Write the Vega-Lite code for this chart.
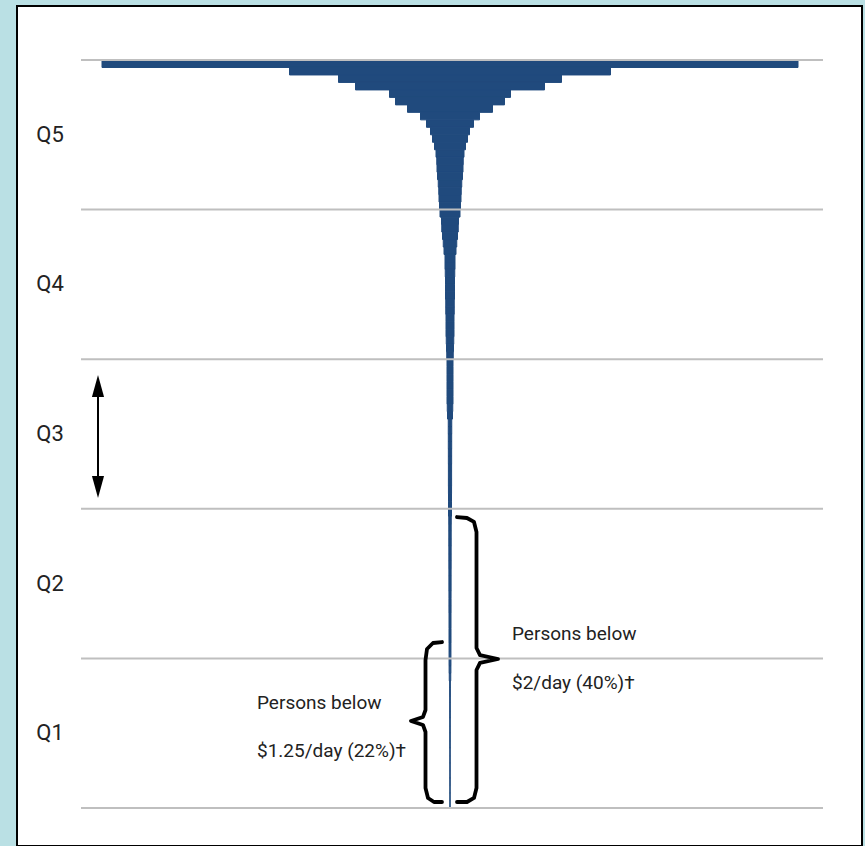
{
  "$schema": "https://vega.github.io/schema/vega-lite/v6.json",
  "width": 845,
  "height": 840,
  "autosize": "none",
  "padding": {"left": 17, "top": 6, "right": 3, "bottom": 0},
  "background": "#bae0e4",
  "config": {
    "view": {"fill": "white", "stroke": "black", "strokeWidth": 2},
    "axis": {"disable": true},
    "text": {"font": "Roboto, sans-serif", "fontSize": 19, "color": "#222222"}
  },
  "layer": [
    {
      "data": {"values": [
        {"p0": 99, "p1": 100, "income": 69.6}, {"p0": 98, "p1": 99, "income": 32.1}, {"p0": 97, "p1": 98, "income": 22.3},
        {"p0": 96, "p1": 97, "income": 18.9}, {"p0": 95, "p1": 96, "income": 12.1}, {"p0": 94, "p1": 95, "income": 10.9},
        {"p0": 93, "p1": 94, "income": 8.5}, {"p0": 92, "p1": 93, "income": 5.9}, {"p0": 91, "p1": 92, "income": 4.7},
        {"p0": 90, "p1": 91, "income": 3.9}, {"p0": 89, "p1": 90, "income": 3.5}, {"p0": 88, "p1": 89, "income": 3.1},
        {"p0": 87, "p1": 88, "income": 2.8}, {"p0": 86, "p1": 87, "income": 2.65}, {"p0": 85, "p1": 86, "income": 2.6},
        {"p0": 84, "p1": 85, "income": 2.5}, {"p0": 83, "p1": 84, "income": 2.35}, {"p0": 82, "p1": 83, "income": 2.25},
        {"p0": 81, "p1": 82, "income": 2.2}, {"p0": 80, "p1": 81, "income": 2.1}, {"p0": 79, "p1": 80, "income": 2.0},
        {"p0": 78, "p1": 79, "income": 1.7}, {"p0": 77, "p1": 78, "income": 1.65}, {"p0": 76, "p1": 77, "income": 1.5},
        {"p0": 75, "p1": 76, "income": 1.35}, {"p0": 74, "p1": 75, "income": 1.2}, {"p0": 73, "p1": 74, "income": 1.0},
        {"p0": 72, "p1": 73, "income": 1.0}, {"p0": 71, "p1": 72, "income": 0.95}, {"p0": 70, "p1": 71, "income": 0.9},
        {"p0": 69, "p1": 70, "income": 0.9}, {"p0": 68, "p1": 69, "income": 0.9}, {"p0": 67, "p1": 68, "income": 0.85},
        {"p0": 66, "p1": 67, "income": 0.85}, {"p0": 65, "p1": 66, "income": 0.8}, {"p0": 64, "p1": 65, "income": 0.8},
        {"p0": 63, "p1": 64, "income": 0.8}, {"p0": 62, "p1": 63, "income": 0.75}, {"p0": 61, "p1": 62, "income": 0.7},
        {"p0": 60, "p1": 61, "income": 0.65}, {"p0": 59, "p1": 60, "income": 0.6}, {"p0": 58, "p1": 59, "income": 0.6},
        {"p0": 57, "p1": 58, "income": 0.6}, {"p0": 56, "p1": 57, "income": 0.6}, {"p0": 55, "p1": 56, "income": 0.6},
        {"p0": 54, "p1": 55, "income": 0.6}, {"p0": 53, "p1": 54, "income": 0.55}, {"p0": 52, "p1": 53, "income": 0.5},
        {"p0": 51, "p1": 52, "income": 0.35}, {"p0": 50, "p1": 51, "income": 0.35}, {"p0": 49, "p1": 50, "income": 0.34},
        {"p0": 48, "p1": 49, "income": 0.34}, {"p0": 47, "p1": 48, "income": 0.33}, {"p0": 46, "p1": 47, "income": 0.33},
        {"p0": 45, "p1": 46, "income": 0.32}, {"p0": 44, "p1": 45, "income": 0.32}, {"p0": 43, "p1": 44, "income": 0.32},
        {"p0": 42, "p1": 43, "income": 0.31}, {"p0": 41, "p1": 42, "income": 0.3}, {"p0": 40, "p1": 41, "income": 0.3},
        {"p0": 39, "p1": 40, "income": 0.3}, {"p0": 38, "p1": 39, "income": 0.25}, {"p0": 37, "p1": 38, "income": 0.24},
        {"p0": 36, "p1": 37, "income": 0.24}, {"p0": 35, "p1": 36, "income": 0.24}, {"p0": 34, "p1": 35, "income": 0.23},
        {"p0": 33, "p1": 34, "income": 0.23}, {"p0": 32, "p1": 33, "income": 0.23}, {"p0": 31, "p1": 32, "income": 0.22},
        {"p0": 30, "p1": 31, "income": 0.22}, {"p0": 29, "p1": 30, "income": 0.22}, {"p0": 28, "p1": 29, "income": 0.21},
        {"p0": 27, "p1": 28, "income": 0.21}, {"p0": 26, "p1": 27, "income": 0.21}, {"p0": 25, "p1": 26, "income": 0.2},
        {"p0": 24, "p1": 25, "income": 0.2}, {"p0": 23, "p1": 24, "income": 0.2}, {"p0": 22, "p1": 23, "income": 0.2},
        {"p0": 21, "p1": 22, "income": 0.19}, {"p0": 20, "p1": 21, "income": 0.19}, {"p0": 19, "p1": 20, "income": 0.19},
        {"p0": 18, "p1": 19, "income": 0.18}, {"p0": 17, "p1": 18, "income": 0.15}, {"p0": 16, "p1": 17, "income": 0.08},
        {"p0": 15, "p1": 16, "income": 0.08}, {"p0": 14, "p1": 15, "income": 0.07}, {"p0": 13, "p1": 14, "income": 0.07},
        {"p0": 12, "p1": 13, "income": 0.07}, {"p0": 11, "p1": 12, "income": 0.06}, {"p0": 10, "p1": 11, "income": 0.06},
        {"p0": 9, "p1": 10, "income": 0.06}, {"p0": 8, "p1": 9, "income": 0.06}, {"p0": 7, "p1": 8, "income": 0.05},
        {"p0": 6, "p1": 7, "income": 0.05}, {"p0": 5, "p1": 6, "income": 0.05}, {"p0": 4, "p1": 5, "income": 0.05},
        {"p0": 3, "p1": 4, "income": 0.05}, {"p0": 2, "p1": 3, "income": 0.04}, {"p0": 1, "p1": 2, "income": 0.04},
        {"p0": 0, "p1": 1, "income": 0.04}
      ]},
      "transform": [{"stack": "income", "groupby": ["p0"], "offset": "center", "as": ["lo", "hi"]}],
      "mark": {"type": "bar", "color": "#204a7d", "stroke": "#204a7d", "strokeWidth": 1, "strokeOpacity": 1, "fillOpacity": 1},
      "encoding": {
        "x": {"field": "lo", "type": "quantitative", "scale": {"domain": [-8.5, 76.0], "nice": false, "zero": false}},
        "x2": {"field": "hi"},
        "y": {"field": "p0", "type": "quantitative", "scale": {"domain": [-5.08, 107.22], "nice": false, "zero": false}},
        "y2": {"field": "p1"}
      }
    },
    {
      "data": {"values": [{"g": 0}, {"g": 20}, {"g": 40}, {"g": 60}, {"g": 80}, {"g": 100}]},
      "mark": {"type": "rule", "color": "#bfbfbf", "strokeWidth": 2},
      "encoding": {
        "y": {"field": "g", "type": "quantitative"},
        "x": {"datum": -2.1, "type": "quantitative"},
        "x2": {"datum": 72.1}
      }
    },
    {
      "data": {"values": [{"q": "Q5", "mid": 90}, {"q": "Q4", "mid": 70}, {"q": "Q3", "mid": 50}, {"q": "Q2", "mid": 30}, {"q": "Q1", "mid": 10}]},
      "mark": {"type": "text", "align": "center", "baseline": "middle", "fontSize": 22},
      "encoding": {
        "y": {"field": "mid", "type": "quantitative"},
        "x": {"datum": -5.2, "type": "quantitative"},
        "text": {"field": "q"}
      }
    },
    {
      "data": {"values": [
        {"b": "low", "i": 1, "bx": 34.0, "by": 22.19}, {"b": "low", "i": 2, "bx": 33.1, "by": 22.06},
        {"b": "low", "i": 3, "bx": 32.5, "by": 21.26}, {"b": "low", "i": 4, "bx": 32.35, "by": 19.79},
        {"b": "low", "i": 5, "bx": 32.35, "by": 13.1}, {"b": "low", "i": 6, "bx": 32.1, "by": 12.17},
        {"b": "low", "i": 7, "bx": 30.9, "by": 11.63}, {"b": "low", "i": 8, "bx": 32.1, "by": 11.1},
        {"b": "low", "i": 9, "bx": 32.35, "by": 10.16}, {"b": "low", "i": 10, "bx": 32.35, "by": 2.67},
        {"b": "low", "i": 11, "bx": 32.6, "by": 1.34}, {"b": "low", "i": 12, "bx": 33.2, "by": 0.8},
        {"b": "low", "i": 13, "bx": 34.0, "by": 0.8},
        {"b": "high", "i": 1, "bx": 35.5, "by": 38.9}, {"b": "high", "i": 2, "bx": 36.5, "by": 38.77},
        {"b": "high", "i": 3, "bx": 37.2, "by": 38.24}, {"b": "high", "i": 4, "bx": 37.45, "by": 36.9},
        {"b": "high", "i": 5, "bx": 37.45, "by": 21.39}, {"b": "high", "i": 6, "bx": 37.8, "by": 20.45},
        {"b": "high", "i": 7, "bx": 39.6, "by": 19.92}, {"b": "high", "i": 8, "bx": 37.8, "by": 19.39},
        {"b": "high", "i": 9, "bx": 37.45, "by": 18.45}, {"b": "high", "i": 10, "bx": 37.45, "by": 2.67},
        {"b": "high", "i": 11, "bx": 37.2, "by": 1.34}, {"b": "high", "i": 12, "bx": 36.5, "by": 0.8},
        {"b": "high", "i": 13, "bx": 35.5, "by": 0.8}
      ]},
      "mark": {"type": "line", "color": "black", "strokeWidth": 3.8, "strokeJoin": "round", "strokeCap": "round"},
      "encoding": {
        "x": {"field": "bx", "type": "quantitative"},
        "y": {"field": "by", "type": "quantitative"},
        "detail": {"field": "b"},
        "order": {"field": "i", "type": "quantitative"}
      }
    },
    {
      "data": {"values": [{}]},
      "mark": {"type": "rule", "color": "black", "strokeWidth": 2},
      "encoding": {
        "x": {"datum": -0.4, "type": "quantitative"},
        "y": {"datum": 55.2, "type": "quantitative"},
        "y2": {"datum": 43.85}
      }
    },
    {
      "data": {"values": [{}]},
      "mark": {"type": "point", "shape": "M0,-1L0.55,1L-0.55,1Z", "filled": true, "color": "black", "opacity": 1, "size": 484},
      "encoding": {
        "x": {"datum": -0.4, "type": "quantitative"},
        "y": {"datum": 56.42, "type": "quantitative"}
      }
    },
    {
      "data": {"values": [{}]},
      "mark": {"type": "point", "shape": "M0,1L0.55,-1L-0.55,-1Z", "filled": true, "color": "black", "opacity": 1, "size": 484},
      "encoding": {
        "x": {"datum": -0.4, "type": "quantitative"},
        "y": {"datum": 42.91, "type": "quantitative"}
      }
    },
    {
      "data": {"values": [{}]},
      "mark": {"type": "text", "text": "Persons below", "align": "left", "baseline": "middle"},
      "encoding": {"x": {"datum": 15.5, "type": "quantitative"}, "y": {"datum": 14.04, "type": "quantitative"}}
    },
    {
      "data": {"values": [{}]},
      "mark": {"type": "text", "text": "$1.25/day (22%)†", "align": "left", "baseline": "middle"},
      "encoding": {"x": {"datum": 15.5, "type": "quantitative"}, "y": {"datum": 7.62, "type": "quantitative"}}
    },
    {
      "data": {"values": [{}]},
      "mark": {"type": "text", "text": "Persons below", "align": "left", "baseline": "middle"},
      "encoding": {"x": {"datum": 41.0, "type": "quantitative"}, "y": {"datum": 23.26, "type": "quantitative"}}
    },
    {
      "data": {"values": [{}]},
      "mark": {"type": "text", "text": "$2/day (40%)†", "align": "left", "baseline": "middle"},
      "encoding": {"x": {"datum": 41.0, "type": "quantitative"}, "y": {"datum": 16.71, "type": "quantitative"}}
    }
  ]
}
